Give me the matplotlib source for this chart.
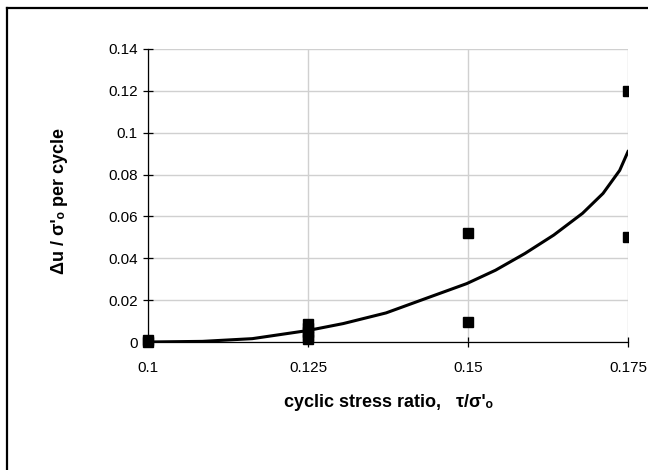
import numpy as np
import matplotlib
matplotlib.use("Agg")
import matplotlib.pyplot as plt
from matplotlib.lines import Line2D
from matplotlib.patches import Rectangle

plt.rcParams['font.family'] = ['Liberation Sans', 'DejaVu Sans']

# measured points
pts_x = [0.1, 0.1, 0.125, 0.125, 0.125, 0.125, 0.125, 0.15, 0.15, 0.175, 0.175]
pts_y = [0.0, 0.001, 0.0015, 0.003, 0.005, 0.0068, 0.0088, 0.052, 0.0095, 0.12, 0.05]

# fitted curve
fit_x = [0.1, 0.1085, 0.1163, 0.125, 0.1305, 0.1372, 0.1434, 0.1498, 0.1543,
         0.1589, 0.1634, 0.1679, 0.1711, 0.1737, 0.175]
fit_y = [0.0, 0.0003, 0.0016, 0.0055, 0.0088, 0.0139, 0.0208, 0.0279, 0.0343,
         0.0423, 0.0511, 0.0615, 0.0710, 0.0820, 0.0910]

x_ticks = [0.1, 0.125, 0.15, 0.175]
x_tick_labels = ["0.1", "0.125", "0.15", "0.175"]
y_ticks = [0, 0.02, 0.04, 0.06, 0.08, 0.1, 0.12, 0.14]
y_tick_labels = ["0", "0.02", "0.04", "0.06", "0.08", "0.1", "0.12", "0.14"]

fig = plt.figure(figsize=(6.48, 4.70), dpi=100)
ax = fig.add_axes([148 / 648, 1 - 342 / 470, 480 / 648, 293 / 470])

ax.set_xlim(0.1, 0.175)
ax.set_ylim(0, 0.14)
ax.set_xticks(x_ticks)
ax.set_xticklabels(x_tick_labels)
ax.set_yticks(y_ticks)
ax.set_yticklabels(y_tick_labels)

ax.grid(True, color='#d0d0d0', lw=1.0)
ax.set_axisbelow(True)
for s in ['top', 'right']:
    ax.spines[s].set_visible(False)
for s in ['left', 'bottom']:
    ax.spines[s].set_color('black')
    ax.spines[s].set_linewidth(0.9)
    ax.spines[s].set_zorder(3)

ax.tick_params(axis='both', direction='inout', length=7, width=0.9,
               labelsize=11, colors='black')
ax.tick_params(axis='x', pad=10)
ax.tick_params(axis='y', pad=4)

ax.plot(fit_x, fit_y, color='black', lw=2.2, zorder=4)
pts, = ax.plot(pts_x, pts_y, 's', color='black', ms=7.2, zorder=5)
# markers spill over the left/bottom edges but are cut at the right edge
clip = Rectangle((-0.1, -0.1), 1.1, 1.2, transform=ax.transAxes)
pts.set_clip_path(clip)

ax.set_xlabel("cyclic stress ratio,   τ/σ'ₒ", fontsize=13, fontweight='bold', labelpad=14)
ax.set_ylabel("Δu / σ'ₒ per cycle", fontsize=13, fontweight='bold')
ax.yaxis.set_label_coords(-0.167, 0.48)

# outer frame (top and left edges visible)
fig.add_artist(Line2D([7 / 648, 1.0], [1 - 8 / 470, 1 - 8 / 470], color='black', lw=1.6,
                      transform=fig.transFigure))
fig.add_artist(Line2D([7 / 648, 7 / 648], [0.0, 1 - 8 / 470], color='black', lw=1.6,
                      transform=fig.transFigure))

fig.savefig("out.png", dpi=100)
